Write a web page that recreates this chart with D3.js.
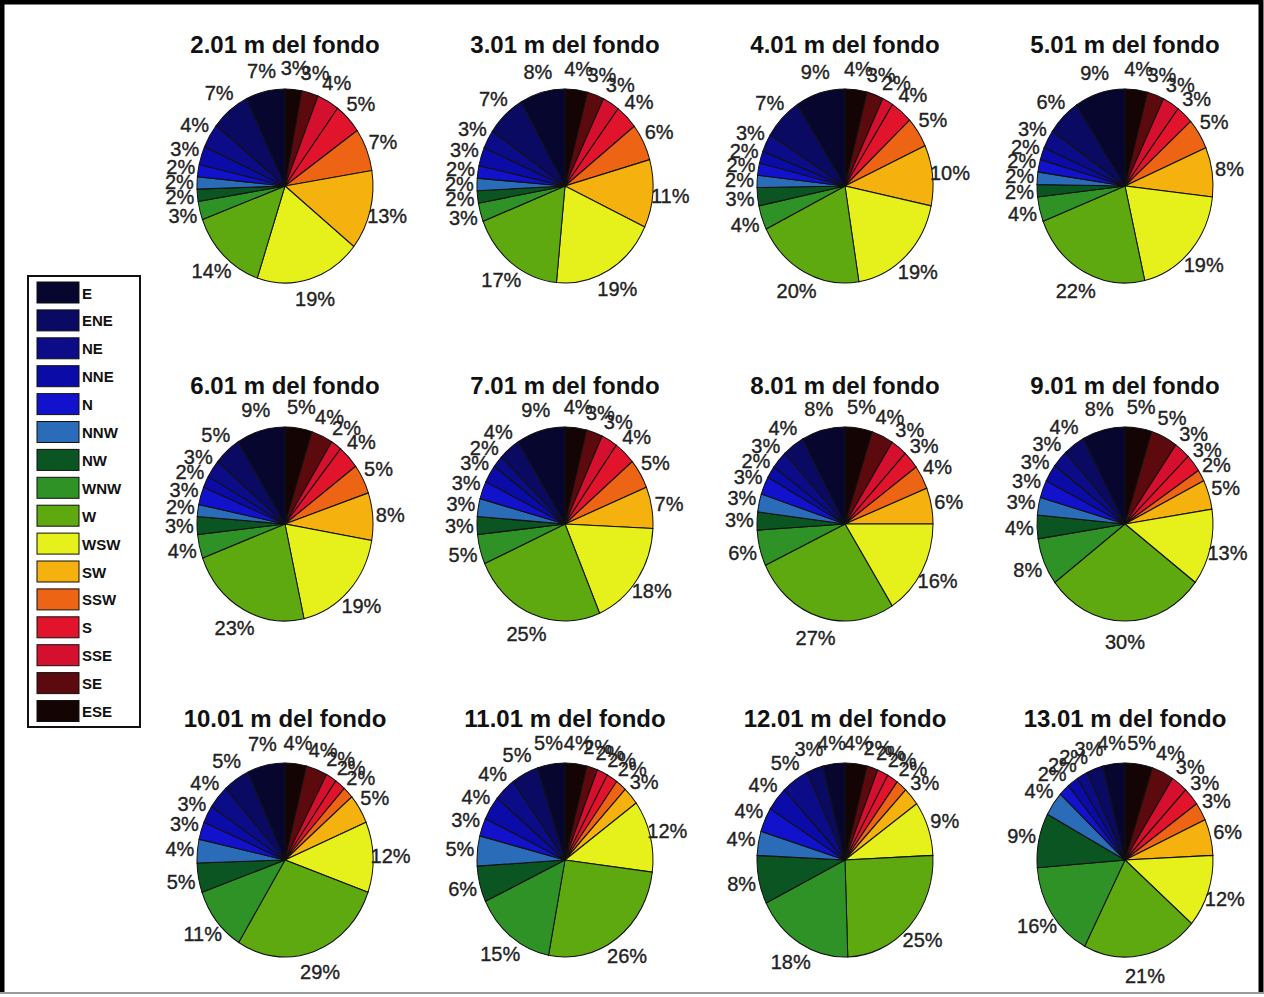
<!DOCTYPE html>
<html><head><meta charset="utf-8">
<script src="https://cdn.jsdelivr.net/npm/d3@7"></script>
<style>html,body{margin:0;padding:0;background:#fff;}svg{display:block;}</style>
</head><body>
<script>
// Directions, in legend order (E first, counter-clockwise from the top)
const directions = ["E","ENE","NE","NNE","N","NNW","NW","WNW","W","WSW","SW","SSW","S","SSE","SE","ESE"];
const dirColors = ["#06062e","#0a0a62","#0c0c88","#0b0ba8","#1212cc","#2a6cb8","#0b5522","#2e9226","#5ea810","#e6f01a","#f5b20e","#ec6414","#e2142c","#d4102e","#5c0a0e","#140404"];
const titles = ["2.01 m del fondo","3.01 m del fondo","4.01 m del fondo","5.01 m del fondo",
                "6.01 m del fondo","7.01 m del fondo","8.01 m del fondo","9.01 m del fondo",
                "10.01 m del fondo","11.01 m del fondo","12.01 m del fondo","13.01 m del fondo"];
// percentages per height, in legend order E ... ESE
const p201  = [7,7,4,3,2,2,2,3,14,19,13,7,5,4,3,3];
const p301  = [8,7,3,3,2,2,2,3,17,19,11,6,4,3,3,4];
const p401  = [9,7,3,2,2,2,3,4,20,19,10,5,4,2,3,4];
const p501  = [9,6,3,2,2,2,2,4,22,19,8,5,3,3,3,4];
const p601  = [9,5,3,2,3,2,3,4,23,19,8,5,4,2,4,5];
const p701  = [9,4,2,3,3,3,3,5,25,18,7,5,4,3,3,4];
const p801  = [8,4,3,2,3,3,3,6,27,16,6,4,3,3,4,5];
const p901  = [8,4,3,3,3,3,4,8,30,13,5,2,3,3,5,5];
const p1001 = [7,5,4,3,3,4,5,11,29,12,5,2,2,2,4,4];
const p1101 = [5,5,4,4,3,5,6,15,26,12,3,2,2,2,2,4];
const p1201 = [4,3,5,4,4,4,8,18,25,9,3,2,2,2,2,4];
const p1301 = [4,3,2,2,2,4,9,16,21,12,6,3,3,3,4,5];
const series = [p201,p301,p401,p501,p601,p701,p801,p901,p1001,p1101,p1201,p1301];

const W = 1264, H = 997;
const svg = d3.select("body").append("svg").attr("width", W).attr("height", H);
svg.append("rect").attr("width", W).attr("height", H).attr("fill", "#fff");

const colX = [285, 565, 845, 1125];
const rowY = [186, 524, 860];
const titleY = [53, 394, 727];
const rx = 88, ry = 97;

const color = d3.scaleOrdinal().domain(directions).range(dirColors);
// counter-clockwise from top, starting with E == clockwise from top starting with ESE
const pie = d3.pie().sort(null).value(d => d.v).startAngle(0).endAngle(2 * Math.PI);
const arc = d3.arc().innerRadius(0).outerRadius(rx);

series.forEach((vals, i) => {
  const cx = colX[i % 4], cy = rowY[Math.floor(i / 4)];
  const g = svg.append("g");
  g.append("text").attr("x", cx).attr("y", titleY[Math.floor(i / 4)])
    .attr("text-anchor", "middle")
    .attr("font-family", "Liberation Sans, Arial, sans-serif")
    .attr("font-weight", "bold").attr("font-size", 24).attr("fill", "#111")
    .text(titles[i]);
  const data = directions.map((d, k) => ({dir: d, v: vals[k]})).reverse();
  const arcs = pie(data);
  const pg = g.append("g").attr("transform", `translate(${cx},${cy}) scale(1,${ry / rx})`);
  pg.selectAll("path").data(arcs).join("path")
    .attr("d", arc)
    .attr("fill", d => color(d.data.dir))
    .attr("stroke", "#111").attr("stroke-width", 1);
  g.selectAll("text.lab").data(arcs).join("text").attr("class", "lab")
    .attr("x", d => cx + 1.2 * rx * Math.sin((d.startAngle + d.endAngle) / 2))
    .attr("y", d => cy - 1.22 * ry * Math.cos((d.startAngle + d.endAngle) / 2))
    .attr("text-anchor", "middle").attr("dominant-baseline", "central")
    .attr("font-family", "Liberation Sans, Arial, sans-serif")
    .attr("font-size", 20).attr("fill", "#222")
    .attr("stroke", "#222").attr("stroke-width", 0.35)
    .text(d => d.data.v + "%");
});

// legend
const lg = svg.append("g");
const lx = 28, ly = 276, step = 27.9;
lg.append("rect").attr("x", lx).attr("y", ly).attr("width", 112).attr("height", 451)
  .attr("fill", "#fff").attr("stroke", "#111").attr("stroke-width", 2);
directions.forEach((d, k) => {
  const y = ly + 6 + k * step;
  lg.append("rect").attr("x", lx + 9).attr("y", y).attr("width", 42).attr("height", 21)
    .attr("fill", color(d)).attr("stroke", "#111").attr("stroke-width", 1);
  lg.append("text").attr("x", lx + 54).attr("y", y + 11)
    .attr("dominant-baseline", "central")
    .attr("font-family", "Liberation Sans, Arial, sans-serif")
    .attr("font-weight", "bold").attr("font-size", 15).attr("fill", "#111")
    .text(d);
});

// outer frame: black on top, left and right, thin grey at the bottom
svg.append("path").attr("d", `M2,${H - 4} L2,2 L${W - 3},2 L${W - 3},${H - 4}`)
  .attr("fill", "none").attr("stroke", "#000").attr("stroke-width", 5);
svg.append("line").attr("x1", 0).attr("x2", W).attr("y1", H - 4).attr("y2", H - 4)
  .attr("stroke", "#999").attr("stroke-width", 2);
</script>
</body></html>
